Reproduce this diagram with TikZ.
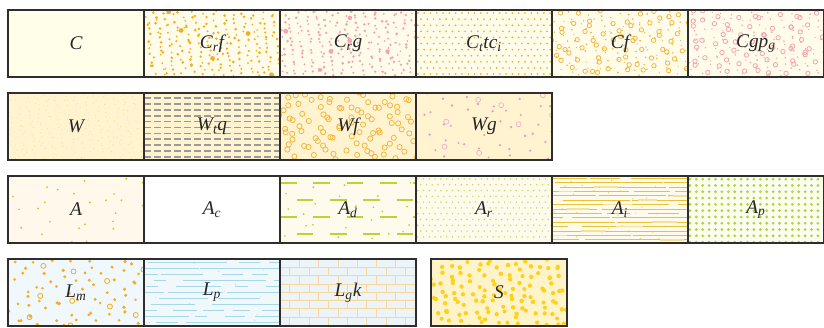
\documentclass[tikz,border=0pt]{standalone}
\usepackage{fontspec}
\setmainfont{Liberation Serif}
\usepackage{tikz}
\usetikzlibrary{positioning, calc, backgrounds}

\definecolor{cellline}{HTML}{2E2E2E}
\definecolor{bgC}{HTML}{FFFEE9}
\definecolor{bgCr}{HTML}{FFFCEA}
\definecolor{bgW}{HTML}{FFF3D0}
\definecolor{bgA}{HTML}{FFF8EB}
\definecolor{bgAd}{HTML}{FFFBEC}
\definecolor{bgAp}{HTML}{FAFEEE}
\definecolor{bgL}{HTML}{F0F8FC}
\definecolor{bgLg}{HTML}{EDF4F7}
\definecolor{bgS}{HTML}{FFF3C9}
\definecolor{orC}{HTML}{F3AE22}
\definecolor{orW}{HTML}{F4B740}
\definecolor{pkC}{HTML}{F4A4B3}
\definecolor{pkW}{HTML}{EE98C2}
\definecolor{grW}{HTML}{9A9A9A}
\definecolor{ygA}{HTML}{D2C52A}
\definecolor{ygD}{HTML}{B9D338}
\definecolor{ygR}{HTML}{C6DB62}
\definecolor{ygP}{HTML}{B3D246}
\definecolor{yeI}{HTML}{EAC23A}
\definecolor{blL}{HTML}{A6D8E8}
\definecolor{brL}{HTML}{F6D89E}
\definecolor{yeS}{HTML}{FFD11A}

% scattered point (quasi random, jittered): sets \px, \py
\newcommand{\scatpt}[1]{%
  \pgfmathsetmacro{\px}{mod(\ox+\k*0.75488,1)*136+(rnd-0.5)*#1}%
  \pgfmathsetmacro{\py}{mod(\oy+\k*0.56984,1)*67+(rnd-0.5)*#1}}
% scattered filled dots: node, count, colour, rmin, rmax (px)
\newcommand{\rdots}[5]{%
  \pgfmathsetmacro{\ox}{rnd}\pgfmathsetmacro{\oy}{rnd}%
  \pgfmathsetmacro{\jt}{0.6*sqrt(9112/#2)}%
  \foreach \k in {1,...,#2}{%
    \scatpt{\jt}%
    \pgfmathsetmacro{\pr}{(#4+(#5-#4)*rnd)*0.75}%
    \fill[#3] ($(#1.north west)+(\px,\py)$) circle[radius=\pr pt];
  }}
% scattered rings: node, count, colour, r (px), line width
\newcommand{\rrings}[5]{%
  \pgfmathsetmacro{\ox}{rnd}\pgfmathsetmacro{\oy}{rnd}%
  \pgfmathsetmacro{\jt}{0.6*sqrt(9112/#2)}%
  \pgfmathsetmacro{\pr}{#4*0.75}%
  \foreach \k in {1,...,#2}{%
    \scatpt{\jt}%
    \draw[#3, line width=#5] ($(#1.north west)+(\px,\py)$) circle[radius=\pr pt];
  }}
% dot grid: node, dx, dy, colour, r (px), stagger
\newcommand{\gdots}[6]{%
  \pgfmathtruncatemacro{\nx}{136/#2}%
  \pgfmathtruncatemacro{\ny}{67/#3}%
  \pgfmathsetmacro{\pr}{#5*0.75}%
  \foreach \j in {0,...,\ny}{%
    \foreach \i in {0,...,\nx}{%
      \pgfmathsetmacro{\px}{(\i+0.3+#6*0.5*mod(\j,2))*#2}%
      \pgfmathsetmacro{\py}{(\j+0.5)*#3}%
      \fill[#4] ($(#1.north west)+(\px,\py)$) circle[radius=\pr pt];
    }}}
% dashed rows: node, y0, dy, last row, on, off, style, shift
\newcommand{\dashrows}[8]{%
  \foreach \j in {0,...,#4}{%
    \pgfmathsetmacro{\py}{#2+\j*#3}%
    \pgfmathsetmacro{\ph}{mod(\j,2)*#8}%
    \draw[#7, dash pattern=on #5 off #6, dash phase=\ph pt] ($(#1.north west)+(0,\py)$) -- ++(136,0);
  }}
% short lines in rows: node, count, row step, rows, lmin, lmax, style
\newcommand{\rlines}[7]{%
  \pgfmathsetmacro{\ox}{rnd}%
  \foreach \k in {1,...,#2}{%
    \pgfmathsetmacro{\px}{mod(\ox+\k*0.61803,1)*150-12}%
    \pgfmathtruncatemacro{\rw}{mod(\k*7,#4)}%
    \pgfmathsetmacro{\py}{(\rw+0.5)*#3}%
    \pgfmathsetmacro{\pl}{#5+(#6-#5)*rnd}%
    \draw[#7] ($(#1.north west)+(\px,\py)$) -- ++(\pl,0);
  }}
% brick wall: node, height, width, style
\newcommand{\bricks}[4]{%
  \pgfmathtruncatemacro{\ny}{67/#2}%
  \pgfmathtruncatemacro{\nx}{136/#3+1}%
  \foreach \j in {0,...,\ny}{%
    \pgfmathsetmacro{\py}{\j*#2}%
    \draw[#4] ($(#1.north west)+(0,\py)$) -- ++(136,0);
    \foreach \i in {0,...,\nx}{%
      \pgfmathsetmacro{\px}{(\i+0.5*mod(\j,2))*#3}%
      \draw[#4] ($(#1.north west)+(\px,\py)$) -- ++(0,#2);
    }}}
% background of one cell: node, fill, pattern
\newcommand{\cellfill}[3]{%
  \begin{scope}
    \clip (#1.north west) rectangle (#1.south east);
    \fill[#2] (#1.north west) rectangle (#1.south east);
    #3
  \end{scope}}
\newcommand{\sub}[1]{\textsubscript{#1}}

\begin{document}
\begin{tikzpicture}[
    x=0.75pt, y=-0.75pt,
    node distance=12pt and 0pt,
    cell/.style={rectangle, draw=cellline, line width=0.9pt, minimum width=102pt,
      minimum height=50.25pt, inner sep=0pt, outer sep=0pt, text=black!85,
      font=\fontsize{14.5}{16}\selectfont\itshape}
]
    \useasboundingbox (0,0) rectangle (824,328);
    \pgfmathsetseed{4711}

    % row 1
    \node[cell] (C) at (76,43.5) {C};
    \node[cell, right=0pt of C] (Crf) {C\sub{r}f};
    \node[cell, right=0pt of Crf] (Crg) {C\sub{r}g};
    \node[cell, right=0pt of Crg] (Ctci) {C\sub{t}tc\sub{i}};
    \node[cell, right=0pt of Ctci] (Cf) {Cf};
    \node[cell, right=0pt of Cf] (Cgpg) {Cgp\sub{g}};
    % row 2
    \node[cell, below=12pt of C] (W) {W};
    \node[cell, right=0pt of W] (Wtq) {W\sub{t}q};
    \node[cell, right=0pt of Wtq] (Wf) {Wf};
    \node[cell, right=0pt of Wf] (Wg) {Wg};
    % row 3
    \node[cell, below=12pt of W] (A) {A};
    \node[cell, right=0pt of A] (Ac) {A\sub{c}};
    \node[cell, right=0pt of Ac] (Ad) {A\sub{d}};
    \node[cell, right=0pt of Ad] (Ar) {A\sub{r}};
    \node[cell, right=0pt of Ar] (Ai) {A\sub{i}};
    \node[cell, right=0pt of Ai] (Ap) {A\sub{p}};
    % row 4
    \node[cell, below=12pt of A] (Lm) {L\sub{m}};
    \node[cell, right=0pt of Lm] (Lp) {L\sub{p}};
    \node[cell, right=0pt of Lp] (Lgk) {L\sub{g}k};
    \node[cell, right=11.25pt of Lgk] (S) {S};

    \begin{pgfonlayer}{background}
    \cellfill{C}{bgC}{}
    \cellfill{Crf}{bgCr}{\rdots{Crf}{220}{orC}{0.9}{1.5}\rdots{Crf}{6}{orC}{2}{2.5}}
    \cellfill{Crg}{bgCr}{\rdots{Crg}{220}{pkC}{0.9}{1.5}\rdots{Crg}{6}{pkC}{2}{2.5}}
    \cellfill{Ctci}{bgCr}{\gdots{Ctci}{6.3}{6.1}{orC}{0.95}{1}}
    \cellfill{Cf}{bgCr}{\rdots{Cf}{130}{orW}{0.6}{1}\rrings{Cf}{70}{orW}{2.2}{0.6pt}}
    \cellfill{Cgpg}{bgCr}{\rdots{Cgpg}{130}{pkC}{0.6}{1}\rrings{Cgpg}{70}{pkC}{2.2}{0.6pt}}
    \cellfill{W}{bgW}{\rdots{W}{320}{orW!55}{0.35}{0.55}}
    \cellfill{Wtq}{bgW}{\dashrows{Wtq}{5}{5.9}{10}{5pt}{2.5pt}{grW, line width=1.3pt}{0}}
    \cellfill{Wf}{bgW}{\rrings{Wf}{95}{orW}{2.6}{0.6pt}}
    \cellfill{Wg}{bgW}{\rdots{Wg}{42}{pkW}{1.1}{1.4}\rrings{Wg}{8}{pkW!80}{2.5}{0.5pt}}
    \cellfill{A}{bgA}{\rdots{A}{30}{ygA}{0.9}{1.1}}
    \cellfill{Ac}{white}{}
    \cellfill{Ad}{bgAd}{\dashrows{Ad}{7}{17}{3}{12.5pt}{12.5pt}{ygD, line width=1.2pt}{12.5}\rdots{Ad}{25}{ygD}{0.9}{1.1}}
    \cellfill{Ar}{bgAd}{\gdots{Ar}{5.8}{5.8}{ygR}{0.85}{1}}
    \cellfill{Ai}{bgAd}{\rlines{Ai}{130}{4.4}{15}{8}{40}{yeI, line width=0.6pt}\rlines{Ai}{12}{4.4}{15}{15}{30}{yeI!50, line width=1.2pt}\rdots{Ai}{60}{yeI}{0.4}{0.7}}
    \cellfill{Ap}{bgAp}{\gdots{Ap}{6.4}{6.3}{ygP}{1.55}{0}}
    \cellfill{Lm}{bgL}{\rdots{Lm}{65}{orC}{1.4}{1.8}\rrings{Lm}{12}{orC}{2.5}{0.6pt}}
    \cellfill{Lp}{bgL}{\rlines{Lp}{60}{6}{11}{10}{45}{blL, line width=0.6pt}\rdots{Lp}{15}{blL}{0.4}{0.6}}
    \cellfill{Lgk}{bgLg}{\bricks{Lgk}{8.3}{19.3}{brL, line width=0.6pt}}
    \cellfill{S}{bgS}{\rdots{S}{120}{yeS}{2}{2.3}}
    \end{pgfonlayer}
\end{tikzpicture}
\end{document}
